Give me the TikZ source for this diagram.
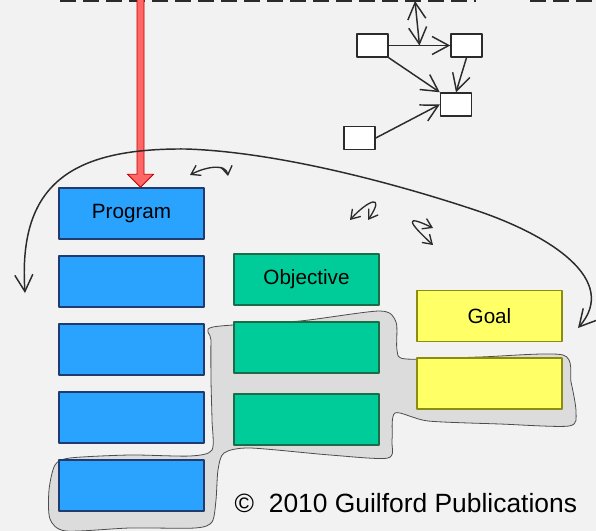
\documentclass[tikz,border=0pt]{standalone}
\usepackage{fontspec}
\setmainfont{Liberation Sans}
\usetikzlibrary{calc, positioning}
\usetikzlibrary{arrows.meta}

\definecolor{paper}{HTML}{F2F2F2}
\definecolor{progblue}{HTML}{2AA3FF}
\definecolor{progedge}{HTML}{1F3B70}
\definecolor{objgreen}{HTML}{00CC99}
\definecolor{objedge}{HTML}{1D6B48}
\definecolor{goalyellow}{HTML}{FFFF66}
\definecolor{goaledge}{HTML}{8C8C10}
\definecolor{blobgray}{HTML}{DCDCDC}
\definecolor{inkgray}{HTML}{2B2B2B}
\definecolor{dropred}{HTML}{FF6666}
\definecolor{dropedge}{HTML}{C00000}

\begin{document}
\begin{tikzpicture}[x=0.75pt, y=-0.75pt, line join=round, line cap=round,
  blockbox/.style={draw, line width=1.1pt, minimum width=108.75pt, minimum height=38.25pt,
    inner sep=0pt, font=\fontsize{15.5}{18}\selectfont},
  progbox/.style={blockbox, fill=progblue, draw=progedge},
  objbox/.style={blockbox, fill=objgreen, draw=objedge},
  goalbox/.style={blockbox, fill=goalyellow, draw=goaledge},
  netbox/.style={draw=inkgray, fill=white, line width=1.1pt, minimum width=23.25pt,
    minimum height=17.25pt, inner sep=0pt},
  bigbarb/.tip={Straight Barb[length=12.5pt, width=13.5pt, line width=1.1pt]},
  smallbarb/.tip={Straight Barb[length=6.5pt, width=8.5pt, line width=1pt]},
  link/.style={draw=inkgray, line width=1.1pt, -bigbarb},
  twoway/.style={draw=inkgray, line width=1.1pt, bigbarb-bigbarb},
  wiggle/.style={draw=inkgray, line width=1pt, smallbarb-smallbarb},
  rail/.style={draw=inkgray, line width=2.25pt, line cap=butt, dash pattern=on 12pt off 5.25pt},
  blob/.style={fill=blobgray, draw=black!70, line width=0.6pt}]

% Page and background
\fill[paper] (0,0) rectangle (596,531);
\useasboundingbox (0,0) rectangle (596,531);

% Shaded region behind the lower boxes
\draw[blob] plot[smooth cycle, tension=0.45] coordinates {
  (213,327) (300,321) (380,311) (396,322) (397,350) (406,359) (480,357) (563,355)
  (571,382) (576,412) (569,426) (500,424) (428,421) (395,413) (392,440) (388,458)
  (330,455) (250,448) (224,453) (218,470) (216,500) (212,522) (195,528) (130,528)
  (66,531) (50,519) (49,490) (55,465) (70,458) (130,455) (190,456) (212,450)
  (212,420) (211,380) (211,340)};

% Dashed boundary along the top
\draw[rail] (60,1) -- (476,1);
\draw[rail] (530,1) -- (596,1);

% Column of programs
\node[progbox] (program) at (131.5,213.5) {Program};
\node[progbox] (prog2) at (131.5,281.5) {};
\node[progbox] (prog3) at (131.5,349.5) {};
\node[progbox] (prog4) at (131.5,417.5) {};
\node[progbox] (prog5) at (131.5,485.5) {};

% Column of objectives
\node[objbox] (objective) at (306.5,279.5) {Objective};
\node[objbox] (obj2) at (306.5,347.5) {};
\node[objbox] (obj3) at (306.5,419.5) {};

% Column of goals
\node[goalbox] (goal) at (489.5,316) {Goal};
\node[goalbox] (goal2) at (489.5,383.5) {};

% Red arrow coming down onto the program column
\coordinate (drop) at ($(program.north)+(9,0)$);
\filldraw[fill=dropred, draw=dropedge, line width=0.6pt, line join=miter]
  ($(drop)+(-3.5,-188)$) -- ($(drop)+(-3.5,-13)$) -- ($(drop)+(-13,-13)$) -- (drop)
  -- ($(drop)+(13,-13)$) -- ($(drop)+(3.5,-13)$) -- ($(drop)+(3.5,-188)$) -- cycle;

% Small network at the top right
\node[netbox] (netA) at (372.5,45.5) {};
\node[netbox] (netB) at (466.5,45.5) {};
\node[netbox] (netC) at (456,104.5) {};
\node[netbox] (netD) at (359.5,138) {};
\draw[link] (netA) -- (netB);
\draw[link] (netA.south east) -- (netC.north west);
\draw[link] (netB.south) -- (netC.north);
\draw[link] (netD.east) -- (netC.west);
\coordinate (railhit) at (415,1);
\coordinate (linkmid) at ($(netA.east)!0.5!(netB.west)$);
\draw[twoway] (railhit) -- (linkmid);

% Long loop from the programs round to the goals
\draw[twoway] (25,293) .. controls (18,185) and (70,148) .. (186,149)
  .. controls (280,152) and (400,185) .. (475,210)
  .. controls (550,235) and (620,280) .. (578,328);

% Little back-and-forth arrows
\draw[wiggle] (190,175) .. controls (205,167) and (226,163) .. (228,176);
\draw[wiggle] (350,220) .. controls (368,200) and (386,193) .. (368,220);
\draw[wiggle] (433,228) .. controls (404,214) and (408,222) .. (433,245);

% Credit line
\node[anchor=base west, font=\fontsize{19.8}{23}\selectfont] (credit) at (230,512)
  {©\ \ 2010 Guilford Publications};
\end{tikzpicture}
\end{document}
